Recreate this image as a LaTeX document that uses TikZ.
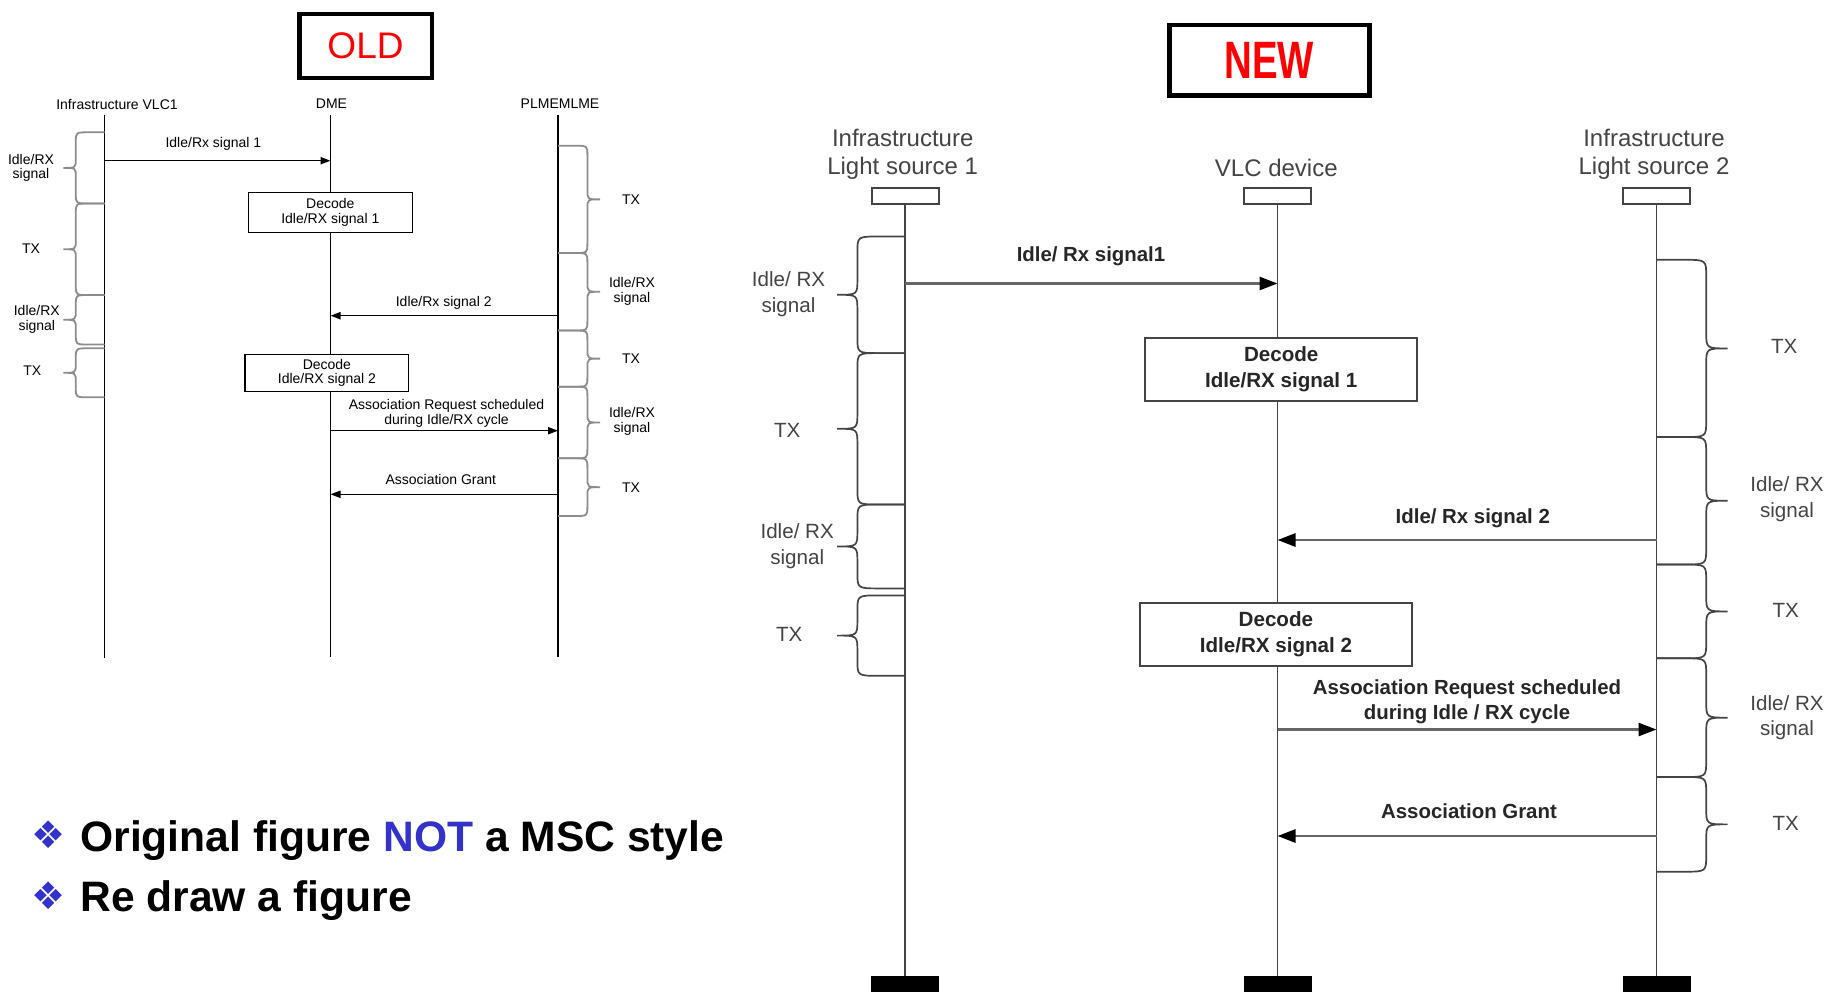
\documentclass[tikz,border=0pt]{standalone}
\usepackage{fontspec}
\setmainfont{Liberation Sans}
\newfontfamily\symbolfont{DejaVu Sans}
\usepackage{graphicx}
\usepackage{tikz}
\usetikzlibrary{arrows.meta, positioning, calc}
\definecolor{notblue}{RGB}{51,51,204}
\definecolor{newgray}{RGB}{68,68,68}

% curly brace beside a lifeline: [style]{lifeline x}{depth, <0 = left}{top y}{bottom y}
\newcommand{\sigbrace}[5][]{%
  \draw[#1] (#2,#4) -- ({#2+0.38*(#3)},#4)
    .. controls ({#2+0.7*(#3)},#4) .. ({#2+0.7*(#3)},{#4+0.23*abs(#3)})
    -- ({#2+0.7*(#3)},{(#4+#5)/2-0.23*abs(#3)})
    .. controls ({#2+0.7*(#3)},{(#4+#5)/2}) .. ({#2+(#3)},{(#4+#5)/2})
    .. controls ({#2+0.7*(#3)},{(#4+#5)/2}) .. ({#2+0.7*(#3)},{(#4+#5)/2+0.23*abs(#3)})
    -- ({#2+0.7*(#3)},{#5-0.23*abs(#3)})
    .. controls ({#2+0.7*(#3)},#5) .. ({#2+0.38*(#3)},#5) -- (#2,#5);}

\tikzset{
  titlebox/.style={draw, line width=2.3pt, inner sep=0pt},
  oldtext/.style={font=\fontsize{7}{7.4}\selectfont, align=center, inner sep=0pt},
  oldline/.style={line width=0.7pt},
  oldmsg/.style={line width=0.7pt, -{Triangle[length=5pt,width=3.6pt]}},
  oldbrace/.style={draw=black!45, line width=0.9pt},
  oldbox/.style={draw, fill=white, line width=0.7pt, inner sep=0pt, align=center, font=\fontsize{7}{7.3}\selectfont},
  headtext/.style={text=newgray, font=\fontsize{12}{14.2}\selectfont, align=center, inner sep=0pt},
  sidetext/.style={text=newgray, font=\fontsize{10.3}{12.8}\selectfont, align=center, inner sep=0pt},
  msgtext/.style={text=black!85, font=\fontsize{10.2}{12.7}\selectfont\bfseries, align=center, inner sep=0pt},
  headbox/.style={draw=newgray, fill=white, line width=1pt, minimum width=33.5pt, minimum height=8pt, inner sep=0pt},
  footbox/.style={fill=black, minimum width=34pt, minimum height=8pt, inner sep=0pt},
  lifeline/.style={draw=newgray, line width=0.9pt},
  newmsg/.style={draw=black!60, line width=1.4pt, -{Triangle[length=9pt,width=6.5pt,color=black]}},
  newbrace/.style={draw=newgray, line width=0.85pt},
  newbox/.style={draw=newgray, fill=white, line width=1pt, inner sep=0pt, align=center, text=black!85, font=\fontsize{10.3}{12.8}\selectfont\bfseries},
  bulletmark/.style={text=notblue, font=\symbolfont\fontsize{19}{19}\selectfont, inner sep=0pt},
  bullettext/.style={font=\fontsize{21.3}{24}\selectfont\bfseries, inner sep=0pt, anchor=base west}
}

\begin{document}
\begin{tikzpicture}[x=0.5pt, y=-0.5pt]
\useasboundingbox (0,0) rectangle (1827,992);

% ---- OLD figure
\node[titlebox, minimum width=66.3pt, minimum height=31.9pt, text=red, font=\fontsize{18.5}{20}\selectfont] (oldtitle) at (365.5,46) {OLD\hspace{10pt}};

\node[oldtext] (oinfra) at (117,104) {Infrastructure VLC1};
\node[oldtext] (odme) at (331.5,104) {DME};
\node[oldtext] (oplme) at (560,104) {PLMEMLME};

\coordinate (oinfratop) at (104.5,115);
\coordinate (oinfrabot) at (104.5,658);
\coordinate (odmetop) at (330.5,115);
\coordinate (odmebot) at (330.5,657);
\coordinate (oplmetop) at (558,115);
\coordinate (oplmebot) at (558,657);
\draw[oldline] (oinfratop) -- (oinfrabot);
\draw[oldline] (odmetop) -- (odmebot);
\draw[oldline] (oplmetop) -- (oplmebot);

\sigbrace[oldbrace]{104.5}{-41}{132.3}{203.5}
\sigbrace[oldbrace]{104.5}{-41}{203.5}{295}
\sigbrace[oldbrace]{104.5}{-41}{295}{344.5}
\sigbrace[oldbrace]{104.5}{-41}{348.3}{397.3}
\node[oldtext] (oside1) at (31,167.8) {Idle/RX\\signal};
\node[oldtext] (oside2) at (31,248.3) {TX};
\node[oldtext] (oside3) at (36.8,319) {Idle/RX\\signal};
\node[oldtext] (oside4) at (32.2,371) {TX};

\sigbrace[oldbrace]{558}{42}{145.7}{253}
\sigbrace[oldbrace]{558}{42}{253}{330.5}
\sigbrace[oldbrace]{558}{42}{330.5}{386.7}
\sigbrace[oldbrace]{558}{42}{386.7}{458.3}
\sigbrace[oldbrace]{558}{42}{458.3}{516}
\node[oldtext] (oside5) at (631,199.3) {TX};
\node[oldtext] (oside6) at (632,291) {Idle/RX\\signal};
\node[oldtext] (oside7) at (631,359) {TX};
\node[oldtext] (oside8) at (632,421.5) {Idle/RX\\signal};
\node[oldtext] (oside9) at (631,487.3) {TX};

\draw[oldmsg] (oinfratop |- 0,160.7) -- (odmetop |- 0,160.7);
\node[oldtext] (omsg1) at (213.4,144) {Idle/Rx signal 1};
\node[oldbox, minimum width=82.1pt, minimum height=19.8pt] (odecode1) at (330.3,212.5) {Decode\\Idle/RX signal 1};
\draw[oldmsg] (oplmetop |- 0,315.7) -- (odmetop |- 0,315.7);
\node[oldtext] (omsg2) at (443.7,303.3) {Idle/Rx signal 2};
\node[oldbox, minimum width=81.8pt, minimum height=18.7pt] (odecode2) at (326.9,373) {Decode\\Idle/RX signal 2};
\draw[oldmsg] (odmetop |- 0,430.7) -- (oplmetop |- 0,430.7);
\node[oldtext] (omsg3) at (446.5,413.3) {Association Request scheduled\\during Idle/RX cycle};
\draw[oldmsg] (oplmetop |- 0,494.3) -- (odmetop |- 0,494.3);
\node[oldtext] (omsg4) at (440.8,479.3) {Association Grant};

% ---- NEW figure
\node[titlebox, minimum width=100pt, minimum height=35.2pt, text=red, font=\fontsize{26.3}{28}\selectfont\bfseries] (newtitle) at (1269.4,60.2) {\scalebox{0.73}[1]{NEW}};

\node[headtext] (ls1name) at (902.7,154.2) {Infrastructure\\Light source 1};
\node[headtext] (vlcname) at (1276.3,168.3) {VLC device};
\node[headtext] (ls2name) at (1654,154.2) {Infrastructure\\Light source 2};

\node[headbox] (ls1head) at (905,196.3) {};
\node[headbox] (vlchead) at (1277.5,196.3) {};
\node[headbox] (ls2head) at (1656.5,196.3) {};
\node[footbox] (ls1foot) at (905,984) {};
\node[footbox] (vlcfoot) at (1277.5,984) {};
\node[footbox] (ls2foot) at (1656.5,984) {};
\draw[lifeline] (ls1head) -- (ls1foot);
\draw[lifeline] (vlchead) -- (vlcfoot);
\draw[lifeline] (ls2head) -- (ls2foot);

\sigbrace[newbrace]{905}{-68}{236.5}{353.1}
\sigbrace[newbrace]{905}{-68}{353.1}{504.5}
\sigbrace[newbrace]{905}{-68}{504.5}{588.4}
\sigbrace[newbrace]{905}{-68}{595.4}{675.8}
\node[sidetext] (side1) at (788.5,294.3) {Idle/ RX\\signal};
\node[sidetext] (side2) at (787.2,430.2) {TX};
\node[sidetext] (side3) at (797.2,545.9) {Idle/ RX\\signal};
\node[sidetext] (side4) at (789.2,634.6) {TX};

\sigbrace[newbrace]{1656.5}{71}{259.8}{437}
\sigbrace[newbrace]{1656.5}{71}{437}{564.5}
\sigbrace[newbrace]{1656.5}{71}{564.5}{658.3}
\sigbrace[newbrace]{1656.5}{71}{658.3}{777}
\sigbrace[newbrace]{1656.5}{71}{777}{871.7}
\node[sidetext] (side5) at (1784.2,346.7) {TX};
\node[sidetext] (side6) at (1787,499) {Idle/ RX\\signal};
\node[sidetext] (side7) at (1785.7,610.5) {TX};
\node[sidetext] (side8) at (1787,717.5) {Idle/ RX\\signal};
\node[sidetext] (side9) at (1785.7,823.3) {TX};

\draw[newmsg] (ls1head |- 0,283.5) -- (vlchead |- 0,283.5);
\node[msgtext] (msg1) at (1091,256.5) {Idle/ Rx signal1};
\node[newbox, minimum width=135.8pt, minimum height=31.5pt] (decode1) at (1281.2,369.4) {Decode\\Idle/RX signal 1};
\draw[newmsg] (ls2head |- 0,540) -- (vlchead |- 0,540);
\node[msgtext] (msg2) at (1472.8,518) {Idle/ Rx signal 2};
\node[newbox, minimum width=136.3pt, minimum height=31.5pt] (decode2) at (1275.9,634) {Decode\\Idle/RX signal 2};
\draw[newmsg] (vlchead |- 0,729.5) -- (ls2head |- 0,729.5);
\node[msgtext] (msg3) at (1467,701.6) {Association Request scheduled\\during Idle / RX cycle};
\draw[newmsg] (ls2head |- 0,836) -- (vlchead |- 0,836);
\node[msgtext] (msg4) at (1469,811.2) {Association Grant};

% ---- remarks
\node[bulletmark] (mark1) at (48.5,835) {❖};
\node[bullettext] (remark1) at (80,851) {Original figure \textcolor{notblue}{NOT} a MSC style};
\node[bulletmark] (mark2) at (48.5,896) {❖};
\node[bullettext] (remark2) at (80,911) {Re draw a figure};
\end{tikzpicture}
\end{document}
